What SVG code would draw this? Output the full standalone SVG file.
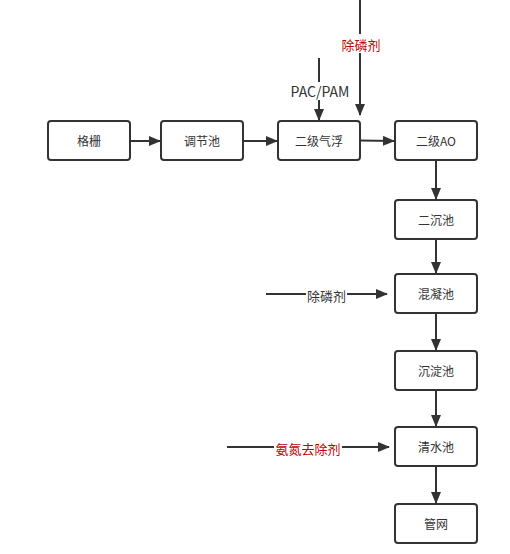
<svg xmlns="http://www.w3.org/2000/svg" width="510" height="554" viewBox="0 0 510 554">
<defs>
<marker id="ah" markerWidth="12" markerHeight="10" refX="11" refY="5" orient="auto" markerUnits="userSpaceOnUse">
<path d="M0,0 L12,5 L0,10 Z" fill="#333"/>
</marker>
<style>
.box{fill:#fff;stroke:#333;stroke-width:2}
.t{font-family:"Noto Sans CJK SC","Microsoft YaHei",sans-serif;font-size:12px;fill:#333;text-anchor:middle;dominant-baseline:central}
.l{font-family:"Noto Sans CJK SC",sans-serif;font-size:13px;text-anchor:middle;dominant-baseline:central}
.c{stroke:#333;stroke-width:2;fill:none}
</style>
</defs>
<rect width="510" height="554" fill="#fff"/>
<g id="connectors">
<line class="c" x1="130" y1="141" x2="160" y2="141" marker-end="url(#ah)"/>
<line class="c" x1="243" y1="141" x2="277" y2="141" marker-end="url(#ah)"/>
<line class="c" x1="360" y1="140.5" x2="394" y2="141" marker-end="url(#ah)"/>
<line class="c" x1="436" y1="160" x2="436" y2="199" marker-end="url(#ah)"/>
<line class="c" x1="436" y1="239" x2="436" y2="273" marker-end="url(#ah)"/>
<line class="c" x1="436" y1="313" x2="436" y2="350" marker-end="url(#ah)"/>
<line class="c" x1="436" y1="390" x2="436" y2="426" marker-end="url(#ah)"/>
<line class="c" x1="436" y1="466" x2="436" y2="503" marker-end="url(#ah)"/>
<line class="c" x1="319" y1="58" x2="319" y2="82"/>
<line class="c" x1="319" y1="100" x2="319" y2="120" marker-end="url(#ah)"/>
<line class="c" x1="360" y1="0" x2="360" y2="34"/>
<line class="c" x1="360" y1="53" x2="360" y2="115" marker-end="url(#ah)"/>
<line class="c" x1="266" y1="294" x2="306" y2="294"/>
<line class="c" x1="347" y1="294" x2="387" y2="294" marker-end="url(#ah)"/>
<line class="c" x1="227" y1="447" x2="274" y2="447"/>
<line class="c" x1="342" y1="447" x2="389" y2="447" marker-end="url(#ah)"/>
<text class="l" x="320" y="91" fill="#333" style="font-size:14px">PAC/PAM</text>
<text class="l" x="361" y="44" fill="#c00000">除磷剂</text>
<text class="l" x="326.5" y="295" fill="#333">除磷剂</text>
<text class="l" x="308" y="448" fill="#c00000">氨氮去除剂</text>
</g>
<g id="n1"><rect class="box" x="48" y="121" width="82" height="39" rx="3"/><text class="t" x="89" y="140.5">格栅</text></g>
<g id="n2"><rect class="box" x="161" y="121" width="82" height="39" rx="3"/><text class="t" x="202" y="140.5">调节池</text></g>
<g id="n3"><rect class="box" x="278" y="121" width="82" height="39" rx="3"/><text class="t" x="319" y="140.5">二级气浮</text></g>
<g id="n4"><rect class="box" x="395" y="121" width="82" height="39" rx="3"/><text class="t" x="436" y="140.5">二级AO</text></g>
<g id="n5"><rect class="box" x="395" y="200" width="82" height="39" rx="3"/><text class="t" x="436" y="219.5">二沉池</text></g>
<g id="n6"><rect class="box" x="395" y="274" width="82" height="39" rx="3"/><text class="t" x="436" y="293.5">混凝池</text></g>
<g id="n7"><rect class="box" x="395" y="351" width="82" height="39" rx="3"/><text class="t" x="436" y="370.5">沉淀池</text></g>
<g id="n8"><rect class="box" x="395" y="427" width="82" height="39" rx="3"/><text class="t" x="436" y="446.5">清水池</text></g>
<g id="n9"><rect class="box" x="395" y="504" width="82" height="39" rx="3"/><text class="t" x="436" y="523.5">管网</text></g>
</svg>
